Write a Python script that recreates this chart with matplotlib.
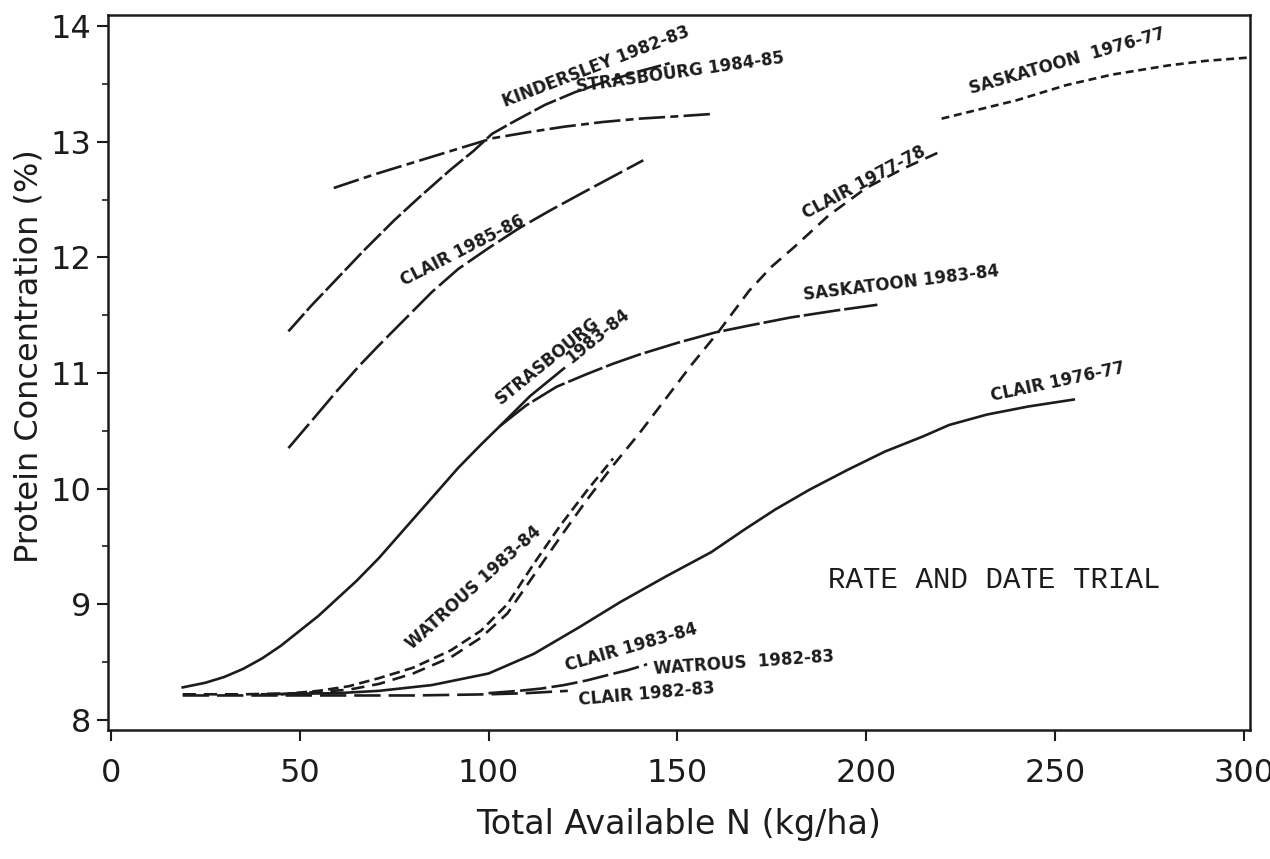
import numpy
from matplotlib import pyplot
from matplotlib.ticker import MultipleLocator

# curves (N in kg/ha, protein in %)
kin_n = [47, 53, 60, 67, 75, 82, 90, 96, 101, 107, 115, 123, 131, 140, 148]
kin_p = [11.36, 11.58, 11.82, 12.06, 12.32, 12.53, 12.76, 12.92, 13.07, 13.18, 13.32, 13.43, 13.52, 13.61, 13.68]

str85_n = [59, 70, 80, 90, 101, 110, 120, 130, 140, 150, 159]
str85_p = [12.6, 12.72, 12.82, 12.92, 13.03, 13.08, 13.13, 13.17, 13.2, 13.22, 13.24]

cl86_n = [47, 53, 60, 66, 71, 78, 85, 92, 100, 108, 116, 125, 133, 141]
cl86_p = [10.35, 10.58, 10.85, 11.07, 11.24, 11.47, 11.7, 11.9, 12.08, 12.25, 12.4, 12.56, 12.7, 12.84]

str84_n = [19, 25, 30, 35, 40, 45, 50, 55, 60, 65, 71, 78, 85, 92, 98, 103, 111, 120]
str84_p = [8.28, 8.32, 8.37, 8.44, 8.53, 8.64, 8.77, 8.9, 9.05, 9.2, 9.4, 9.66, 9.92, 10.18, 10.38, 10.54, 10.8, 11.04]

sas84_n = [103, 110, 118, 126, 133, 140, 150, 160, 169, 180, 192, 203]
sas84_p = [10.54, 10.72, 10.88, 10.99, 11.08, 11.16, 11.26, 11.35, 11.41, 11.48, 11.54, 11.59]

cl78_n = [19, 35, 50, 63, 71, 80, 90, 98, 105, 112, 119, 126, 133, 140, 147, 154, 161, 169, 175, 181, 190, 200, 210, 220]
cl78_p = [8.22, 8.22, 8.23, 8.26, 8.31, 8.4, 8.54, 8.71, 8.92, 9.25, 9.58, 9.9, 10.2, 10.48, 10.78, 11.08, 11.36, 11.71, 11.92, 12.09, 12.36, 12.6, 12.77, 12.92]

wat84_n = [45, 55, 63, 71, 80, 90, 98, 105, 112, 119, 126, 133]
wat84_p = [8.22, 8.25, 8.29, 8.36, 8.45, 8.6, 8.77, 9.0, 9.35, 9.68, 9.98, 10.26]

sas77_n = [220, 230, 240, 253, 265, 280, 290, 302]
sas77_p = [13.2, 13.28, 13.36, 13.49, 13.58, 13.66, 13.7, 13.73]

cl77_n = [40, 60, 71, 85, 100, 112, 124, 135, 147, 159, 168, 176, 185, 195, 205, 215, 222, 232, 243, 255]
cl77_p = [8.22, 8.23, 8.25, 8.3, 8.4, 8.57, 8.8, 9.02, 9.24, 9.45, 9.65, 9.82, 9.99, 10.16, 10.32, 10.45, 10.55, 10.64, 10.71, 10.77]

cl83_n = [19, 40, 60, 80, 100, 110, 121]
cl83_p = [8.21, 8.21, 8.21, 8.21, 8.22, 8.23, 8.25]

cl84_n = [100, 108, 114, 120, 126, 132, 137, 142]
cl84_p = [8.23, 8.25, 8.27, 8.3, 8.34, 8.39, 8.43, 8.48]

xticks = [0, 50, 100, 150, 200, 250, 300]
yticks = [8, 9, 10, 11, 12, 13, 14]

ink = "#1c1c1c"
lw = 1.9

fig = pyplot.figure(figsize=(12.7, 8.59), dpi=100)
ax = fig.add_axes([0.085, 0.150, 0.899, 0.833])

ax.plot(kin_n, kin_p, color=ink, linewidth=lw, dashes=(9, 1.5))
ax.plot(str85_n, str85_p, color=ink, linewidth=lw, dashes=(10, 2, 3, 2))
ax.plot(cl86_n, cl86_p, color=ink, linewidth=lw, dashes=(12, 2))
ax.plot(str84_n, str84_p, color=ink, linewidth=lw)
ax.plot(sas84_n, sas84_p, color=ink, linewidth=lw, dashes=(14, 1.5))
ax.plot(cl78_n, cl78_p, color=ink, linewidth=lw, dashes=(5, 3))
ax.plot(wat84_n, wat84_p, color=ink, linewidth=lw, dashes=(4, 2))
ax.plot(sas77_n, sas77_p, color=ink, linewidth=lw, dashes=(3, 1.8))
ax.plot(cl77_n, cl77_p, color=ink, linewidth=lw)
ax.plot(cl83_n, cl83_p, color=ink, linewidth=lw, dashes=(10, 3))
ax.plot(cl84_n, cl84_p, color=ink, linewidth=lw, dashes=(10, 2))

# hand lettered labels
hand = dict(fontsize=12, fontweight="bold", color=ink, rotation_mode="anchor",
            ha="left", va="bottom")
ax.text(104.8, 13.27, "KINDERSLEY 1982-83", rotation=21, **hand)
ax.text(123.6, 13.40, "STRASBOURG 1984-85", rotation=8, **hand)
ax.text(78, 11.72, "CLAIR 1985-86", rotation=27, **hand)
ax.text(103.8, 10.70, "STRASBOURG", rotation=39, **hand)
ax.text(122.5, 11.05, "1983-84", rotation=39, **hand)
ax.text(183.7, 11.60, "SASKATOON 1983-84", rotation=7, **hand)
ax.text(184.5, 12.30, "CLAIR 1977-78", rotation=28, **hand)
ax.text(228, 13.38, "SASKATOON  1976-77", rotation=16, **hand)
ax.text(233.5, 10.72, "CLAIR 1976-77", rotation=12, **hand)
ax.text(80.5, 8.58, "WATROUS 1983-84", rotation=42, **hand)
ax.text(121, 8.39, "CLAIR 1983-84", rotation=16, **hand)
ax.text(144, 8.36, "WATROUS  1982-83", rotation=4, **hand)
ax.text(124, 8.09, "CLAIR 1982-83", rotation=5, **hand)

ax.text(190, 9.21, "RATE AND DATE TRIAL", family="Liberation Mono", fontsize=21,
        color=ink, ha="left", va="center")

ax.set_xlim(-0.8, 301.6)
ax.set_ylim(7.91, 14.1)
ax.set_xticks(xticks)
ax.set_yticks(yticks)
ax.yaxis.set_minor_locator(MultipleLocator(0.5))
ax.tick_params(axis="both", which="major", labelsize=23, colors=ink, width=1.5, length=8)
ax.tick_params(axis="x", which="major", pad=12)
ax.tick_params(axis="y", which="major", pad=4)
ax.tick_params(axis="y", which="minor", length=4, width=1.2, colors=ink)
for spine in ax.spines.values():
    spine.set_linewidth(1.8)
    spine.set_color(ink)

ax.set_xlabel("Total Available N (kg/ha)", fontsize=24, color=ink, labelpad=14)
fig.text(0.023, 0.585, "Protein Concentration (%)", fontsize=23, color=ink,
         rotation=90, ha="center", va="center")

fig.savefig("out.png", dpi=100)
